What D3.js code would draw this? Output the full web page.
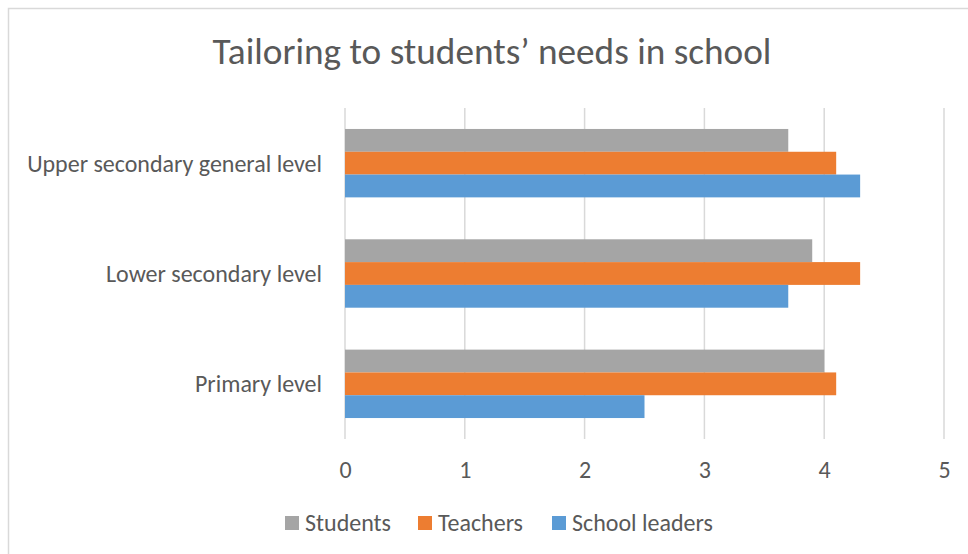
<!DOCTYPE html>
<html>
<head>
  <meta charset="utf-8">
  <script src="https://d3js.org/d3.v7.min.js"></script>
  <style>
    body { margin:0; background:#fff; }
    text { font-family: Carlito, Lato, "Noto Sans", sans-serif; fill:#595959; }
  </style>
</head>
<body>
<script>
  // chart data
  const categories = ["Upper secondary general level", "Lower secondary level", "Primary level"];
  const seriesNames = ["Students", "Teachers", "School leaders"];
  const students = [3.7, 3.9, 4.0];
  const teachers = [4.1, 4.3, 4.1];
  const schoolLeaders = [4.3, 3.7, 2.5];
  const xTicks = [0, 1, 2, 3, 4, 5];
  const colours = ["#a5a5a5", "#ed7d31", "#5b9bd5"];

  const width = 968, height = 554;
  const plot = { left: 345, right: 944, top: 108, bottom: 439 };

  const svg = d3.select("body").append("svg")
      .attr("width", width)
      .attr("height", height);

  // outer chart border (runs off the right and bottom edge)
  svg.append("rect")
      .attr("x", 8.5).attr("y", 8.5)
      .attr("width", 1000).attr("height", 600)
      .attr("fill", "none")
      .attr("stroke", "#d9d9d9")
      .attr("stroke-width", 1.5);

  // fit a text element to a target width by changing its font size
  function fit(sel, target) {
    const w = sel.node().getComputedTextLength();
    const fs = parseFloat(sel.attr("font-size"));
    sel.attr("font-size", fs * target / w);
    return fs * target / w;
  }

  const title = svg.append("text")
      .attr("x", 492).attr("y", 64)
      .attr("text-anchor", "middle")
      .attr("font-size", 32)
      .text("Tailoring to students\u2019 needs in school");
  fit(title, 559);

  const x = d3.scaleLinear().domain([0, 5]).range([plot.left, plot.right]);
  const y = d3.scaleBand().domain(categories)
      .range([plot.top, plot.bottom])
      .paddingInner(0.38).paddingOuter(0.19);
  const ySub = d3.scaleBand().domain(seriesNames).range([0, y.bandwidth()]);

  // gridlines
  svg.append("g").selectAll("line").data(xTicks).enter().append("line")
      .attr("x1", d => x(d)).attr("x2", d => x(d))
      .attr("y1", plot.top).attr("y2", plot.bottom)
      .attr("stroke", "#d9d9d9")
      .attr("stroke-width", 1.5);

  const values = [students, teachers, schoolLeaders];
  const rows = [];
  categories.forEach((c, i) => {
    seriesNames.forEach((s, j) => rows.push({ cat: c, series: s, value: values[j][i], k: j }));
  });

  svg.append("g").selectAll("rect").data(rows).enter().append("rect")
      .attr("x", x(0))
      .attr("y", d => y(d.cat) + ySub(d.series))
      .attr("width", d => x(d.value) - x(0))
      .attr("height", ySub.bandwidth())
      .attr("fill", d => colours[d.k]);

  // measure base font size from the longest category label
  const probe = svg.append("text").attr("font-size", 21).text(categories[0]);
  const fs = fit(probe, 295);
  probe.remove();

  // category labels
  svg.append("g").selectAll("text").data(categories).enter().append("text")
      .attr("x", 322)
      .attr("y", d => y(d) + y.bandwidth() / 2)
      .attr("dy", "0.35em")
      .attr("text-anchor", "end")
      .attr("font-size", fs)
      .text(d => d);

  // x axis labels
  const xAxis = d3.axisBottom(x).tickValues(xTicks)
      .tickFormat(d3.format("d"))
      .tickSize(0).tickPadding(0);
  const xg = svg.append("g")
      .attr("transform", `translate(0, 470)`)
      .call(xAxis);
  xg.select(".domain").remove();
  xg.attr("font-family", null).attr("font-size", null);
  xg.selectAll("text")
      .attr("dy", "0.35em")
      .attr("y", 0)
      .style("font-size", fs + "px")
      .attr("fill", "#595959");

  // legend
  const legendX = [285, 418, 552];
  const legend = svg.append("g").selectAll("g").data(seriesNames).enter().append("g")
      .attr("transform", (d, i) => `translate(${legendX[i]}, 523)`);
  legend.append("rect")
      .attr("x", 0).attr("y", -7)
      .attr("width", 14).attr("height", 14)
      .attr("fill", (d, i) => colours[i]);
  legend.append("text")
      .attr("x", 20)
      .attr("dy", "0.35em")
      .attr("font-size", fs)
      .text(d => d);
</script>
</body>
</html>
